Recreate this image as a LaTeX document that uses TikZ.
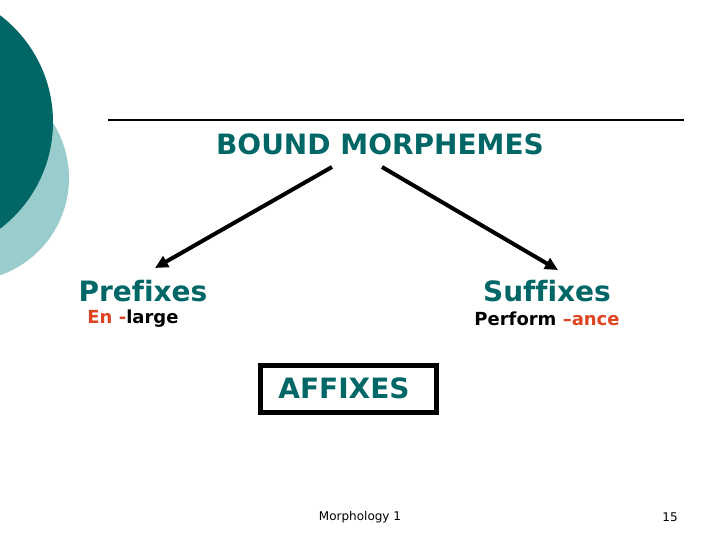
\documentclass[tikz,border=0pt]{standalone}
\usepackage{fontspec}
\setmainfont{DejaVu Sans}[Ligatures=NoCommon]
\usetikzlibrary{arrows.meta}
\definecolor{teal1}{RGB}{0,102,102}
\definecolor{teallight}{RGB}{153,204,204}
\definecolor{redtxt}{RGB}{221,68,34}
\tikzset{
  head/.style={font=\fontsize{28}{32}\selectfont\bfseries, text=teal1, inner sep=0pt},
  sub/.style={font=\fontsize{18}{21}\selectfont\bfseries, inner sep=0pt},
  foot/.style={font=\fontsize{12}{14}\selectfont, inner sep=0pt},
  conn/.style={line width=4pt, -{Triangle[length=13pt,width=12pt]}}
}
\begin{document}
\begin{tikzpicture}[x=1pt,y=-1pt]
\useasboundingbox (0,0) rectangle (720,540);
\fill[white] (0,0) rectangle (720,540);
\begin{scope}
\clip (0,0) rectangle (720,540);
\fill[teallight] (-34,178) circle (103);
\fill[teal1] (-81,122) circle (134);
\end{scope}
\draw[line width=1.5pt] (108,120) -- (684,120);
\node[head] (title) at (380,144) {BOUND MORPHEMES};
\coordinate (ls) at (332,167);
\coordinate (le) at (155,268);
\coordinate (rs) at (382,167);
\coordinate (re) at (558,270);
\draw[conn] (ls) -- (le);
\draw[conn] (rs) -- (re);
\node[head] (pre) at (143,291) {Prefixes};
\node[head] (suf) at (547,291) {Suffixes};
\node[sub] (preex) at (133,319) {\textcolor{redtxt}{En -}large};
\node[sub] (sufex) at (547,319) {Perform \textcolor{redtxt}{–ance}};
\draw[line width=5pt] (260,365) rectangle (436,412);
\node[head] (aff) at (344,388) {AFFIXES};
\node[foot] (foot) at (360,517) {Morphology 1};
\node[foot] (num) at (670,517) {15};
\end{tikzpicture}
\end{document}
